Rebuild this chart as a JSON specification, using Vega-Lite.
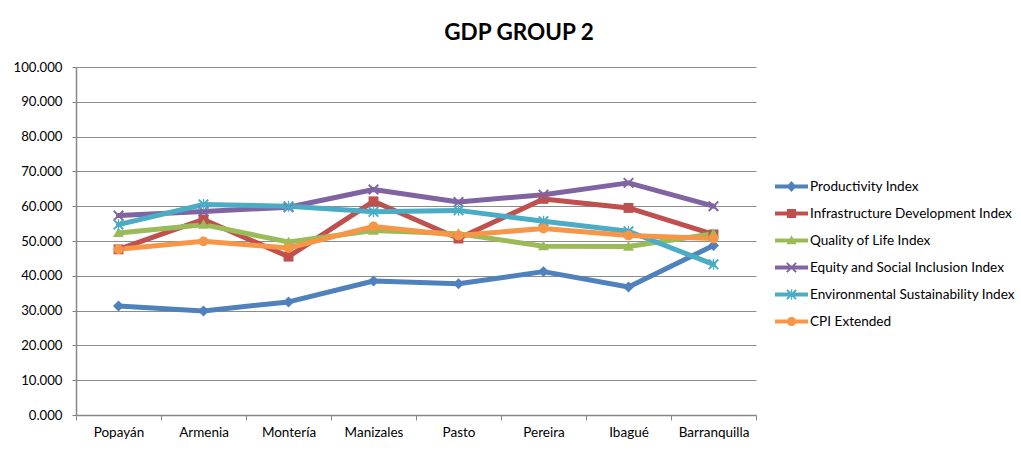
{
  "$schema": "https://vega.github.io/schema/vega-lite/v6.json",
  "width": 680,
  "height": 348,
  "autosize": {"type": "none"},
  "padding": {"left": 76, "top": 67, "right": 265, "bottom": 37},
  "background": "white",
  "config": {"view": {"stroke": null}},
  "title": {"text": "GDP GROUP 2", "font": "Lato", "fontSize": 22.5, "fontWeight": "bold", "color": "#000000", "anchor": "middle", "dx": 103, "baseline": "alphabetic", "offset": -2},
  "data": {"values": [
    {"city": "Popayán", "series": "Productivity Index", "value": 31.3},
    {"city": "Armenia", "series": "Productivity Index", "value": 29.9},
    {"city": "Montería", "series": "Productivity Index", "value": 32.5},
    {"city": "Manizales", "series": "Productivity Index", "value": 38.5},
    {"city": "Pasto", "series": "Productivity Index", "value": 37.7},
    {"city": "Pereira", "series": "Productivity Index", "value": 41.2},
    {"city": "Ibagué", "series": "Productivity Index", "value": 36.8},
    {"city": "Barranquilla", "series": "Productivity Index", "value": 48.7},
    {"city": "Popayán", "series": "Infrastructure Development Index", "value": 47.6},
    {"city": "Armenia", "series": "Infrastructure Development Index", "value": 56.2},
    {"city": "Montería", "series": "Infrastructure Development Index", "value": 45.5},
    {"city": "Manizales", "series": "Infrastructure Development Index", "value": 61.4},
    {"city": "Pasto", "series": "Infrastructure Development Index", "value": 50.7},
    {"city": "Pereira", "series": "Infrastructure Development Index", "value": 62.1},
    {"city": "Ibagué", "series": "Infrastructure Development Index", "value": 59.5},
    {"city": "Barranquilla", "series": "Infrastructure Development Index", "value": 51.9},
    {"city": "Popayán", "series": "Quality of Life Index", "value": 52.3},
    {"city": "Armenia", "series": "Quality of Life Index", "value": 54.7},
    {"city": "Montería", "series": "Quality of Life Index", "value": 49.7},
    {"city": "Manizales", "series": "Quality of Life Index", "value": 53.0},
    {"city": "Pasto", "series": "Quality of Life Index", "value": 52.1},
    {"city": "Pereira", "series": "Quality of Life Index", "value": 48.5},
    {"city": "Ibagué", "series": "Quality of Life Index", "value": 48.4},
    {"city": "Barranquilla", "series": "Quality of Life Index", "value": 52.1},
    {"city": "Popayán", "series": "Equity and Social Inclusion Index", "value": 57.3},
    {"city": "Armenia", "series": "Equity and Social Inclusion Index", "value": 58.5},
    {"city": "Montería", "series": "Equity and Social Inclusion Index", "value": 59.7},
    {"city": "Manizales", "series": "Equity and Social Inclusion Index", "value": 64.8},
    {"city": "Pasto", "series": "Equity and Social Inclusion Index", "value": 61.2},
    {"city": "Pereira", "series": "Equity and Social Inclusion Index", "value": 63.3},
    {"city": "Ibagué", "series": "Equity and Social Inclusion Index", "value": 66.7},
    {"city": "Barranquilla", "series": "Equity and Social Inclusion Index", "value": 60.0},
    {"city": "Popayán", "series": "Environmental Sustainability Index", "value": 54.7},
    {"city": "Armenia", "series": "Environmental Sustainability Index", "value": 60.5},
    {"city": "Montería", "series": "Environmental Sustainability Index", "value": 60.0},
    {"city": "Manizales", "series": "Environmental Sustainability Index", "value": 58.4},
    {"city": "Pasto", "series": "Environmental Sustainability Index", "value": 58.8},
    {"city": "Pereira", "series": "Environmental Sustainability Index", "value": 55.7},
    {"city": "Ibagué", "series": "Environmental Sustainability Index", "value": 52.8},
    {"city": "Barranquilla", "series": "Environmental Sustainability Index", "value": 43.3},
    {"city": "Popayán", "series": "CPI Extended", "value": 47.6},
    {"city": "Armenia", "series": "CPI Extended", "value": 49.9},
    {"city": "Montería", "series": "CPI Extended", "value": 48.0},
    {"city": "Manizales", "series": "CPI Extended", "value": 54.2},
    {"city": "Pasto", "series": "CPI Extended", "value": 51.6},
    {"city": "Pereira", "series": "CPI Extended", "value": 53.6},
    {"city": "Ibagué", "series": "CPI Extended", "value": 51.6},
    {"city": "Barranquilla", "series": "CPI Extended", "value": 50.7}
  ]},
  "encoding": {
    "x": {
      "field": "city", "type": "nominal",
      "sort": ["Popayán", "Armenia", "Montería", "Manizales", "Pasto", "Pereira", "Ibagué", "Barranquilla"],
      "scale": {"type": "band", "paddingInner": 0, "paddingOuter": 0},
      "axis": {"title": null, "tickBand": "extent", "labelAngle": 0, "labelFont": "Lato", "labelFontSize": 13.5, "labelColor": "#000000", "domainColor": "#868686", "domainWidth": 1.5, "tickColor": "#868686", "tickSize": 5, "labelPadding": 5, "grid": false}
    },
    "y": {
      "field": "value", "type": "quantitative",
      "scale": {"domain": [0, 100], "nice": false},
      "axis": {"title": null, "values": [0, 10, 20, 30, 40, 50, 60, 70, 80, 90, 100], "format": ".3f", "labelFont": "Lato", "labelFontSize": 13.2, "labelColor": "#000000", "labelPadding": 10, "tickSize": 4, "gridColor": "#8c8c8c", "domainColor": "#868686", "domainWidth": 1.5, "tickColor": "#868686"}
    }
  },
  "resolve": {"legend": {"color": "independent", "shape": "independent"}},
  "layer": [
    {
      "mark": {"type": "line", "strokeWidth": 5, "strokeJoin": "round", "strokeCap": "round"},
      "encoding": {
        "color": {
          "field": "series", "type": "nominal",
          "scale": {
            "domain": ["Productivity Index", "Infrastructure Development Index", "Quality of Life Index", "Equity and Social Inclusion Index", "Environmental Sustainability Index", "CPI Extended"],
            "range": ["#4F81BD", "#C0504D", "#9BBB59", "#8064A2", "#4BACC6", "#F79646"]
          },
          "legend": {
            "orient": "none", "legendX": 699, "legendY": 103, "title": null,
            "symbolSize": 1089, "labelFont": "Lato", "labelFontSize": 13.6, "labelColor": "#000000", "labelOffset": 2, "labelLimit": 300, "rowPadding": 3,
            "encode": {"symbols": {"update": {
              "shape": {"signal": "datum.value === 'Productivity Index' ? 'M-1,-0.12H1V0.12H-1Z M0,-0.33L0.3,0L0,0.33L-0.3,0Z' : datum.value === 'Infrastructure Development Index' ? 'M-1,-0.12H1V0.12H-1Z M-0.28,-0.28H0.28V0.28H-0.28Z' : datum.value === 'Quality of Life Index' ? 'M-1,-0.12H1V0.12H-1Z M0,-0.32L0.3,0.22L-0.3,0.22Z' : datum.value === 'Equity and Social Inclusion Index' ? 'M-1,-0.12H1V0.12H-1Z M-0.32,-0.24L-0.24,-0.32L0.32,0.24L0.24,0.32Z M0.24,-0.32L0.32,-0.24L-0.24,0.32L-0.32,0.24Z' : datum.value === 'Environmental Sustainability Index' ? 'M-1,-0.12H1V0.12H-1Z M-0.32,-0.24L-0.24,-0.32L0.32,0.24L0.24,0.32Z M0.24,-0.32L0.32,-0.24L-0.24,0.32L-0.32,0.24Z M-0.04,-0.32H0.04V0.32H-0.04Z' : 'M-1,-0.12H1V0.12H-1Z M-0.28,0A0.28,0.28 0 1,1 0.28,0A0.28,0.28 0 1,1 -0.28,0Z'"},
              "fill": {"signal": "scale('color', datum.value)"},
              "stroke": {"value": "transparent"},
              "strokeWidth": {"value": 0},
              "opacity": {"value": 1}
            }}}
          }
        }
      }
    },
    {
      "mark": {"type": "point", "filled": true, "size": 120, "opacity": 1},
      "encoding": {
        "color": {"field": "series", "type": "nominal", "legend": null},
        "shape": {
          "field": "series", "type": "nominal", "legend": null,
          "scale": {
            "domain": ["Productivity Index", "Infrastructure Development Index", "Quality of Life Index", "Equity and Social Inclusion Index", "Environmental Sustainability Index", "CPI Extended"],
            "range": [
              "M0,-1L1,0L0,1L-1,0Z",
              "M-0.9,-0.9H0.9V0.9H-0.9Z",
              "M0,-1L1,0.75L-1,0.75Z",
              "M-1,-0.75L-0.75,-1L1,0.75L0.75,1Z M0.75,-1L1,-0.75L-0.75,1L-1,0.75Z",
              "M-1,-0.75L-0.75,-1L1,0.75L0.75,1Z M0.75,-1L1,-0.75L-0.75,1L-1,0.75Z M-0.12,-1H0.12V1H-0.12Z",
              "M-0.9,0A0.9,0.9 0 1,1 0.9,0A0.9,0.9 0 1,1 -0.9,0Z"
            ]
          }
        }
      }
    }
  ]
}
